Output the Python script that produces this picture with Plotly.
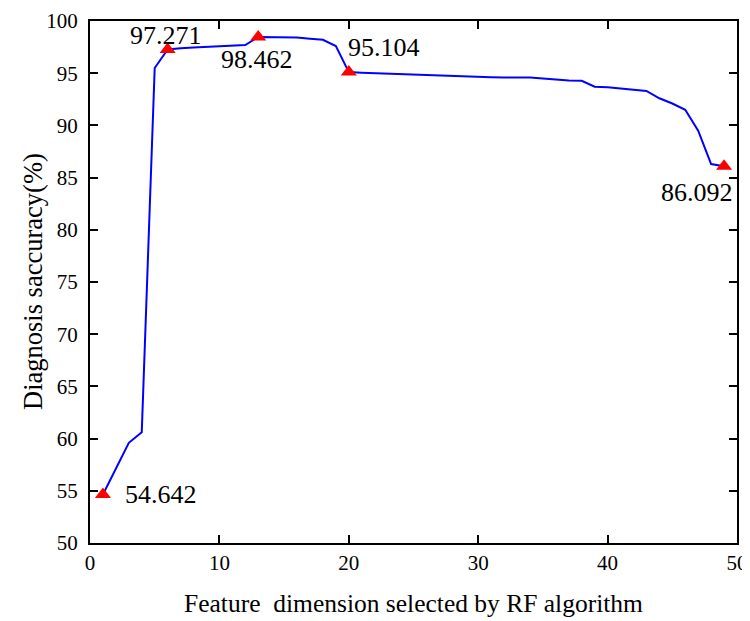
import plotly.graph_objects as go

x_dims = list(range(1, 50))
accuracy = [54.642, 57.2, 59.6, 60.6, 95.5, 97.271, 97.4, 97.45, 97.5, 97.55,
            97.62, 97.7, 98.462, 98.45, 98.45, 98.42, 98.3, 98.2, 97.6, 95.104,
            95.05, 95.0, 94.95, 94.9, 94.88, 94.86, 94.75, 94.72, 94.65, 94.64,
            94.62, 94.6, 94.6, 94.58, 94.5, 94.4, 94.3, 94.28, 93.7, 93.65,
            93.55, 93.4, 93.3, 92.6, 92.1, 91.5, 89.5, 86.3, 86.092]

mark_x = [1, 6, 13, 20, 49]
mark_y = [54.642, 97.271, 98.462, 95.104, 86.092]
mark_labels = ["54.642", "97.271", "98.462", "95.104", "86.092"]
label_shift = [(58, 0), (-2, 14), (-1, -22), (35, 25), (-27, -26)]

SERIF = "Liberation Serif"

fig = go.Figure()
fig.add_trace(go.Scatter(x=x_dims, y=accuracy, mode="lines",
                         line=dict(color="#0000ff", width=2), showlegend=False))
fig.add_trace(go.Scatter(x=mark_x, y=mark_y, mode="markers",
                         marker=dict(symbol="triangle-up", color="#ff0000", size=14),
                         showlegend=False))

for xv, yv, lab, (dx, dy) in zip(mark_x, mark_y, mark_labels, label_shift):
    fig.add_annotation(x=xv, y=yv, text=lab, showarrow=False, xshift=dx, yshift=dy,
                       font=dict(family=SERIF, size=26, color="black"))

# y-axis title placed as a rotated annotation for exact positioning
fig.add_annotation(x=0, y=0.5, xref="paper", yref="paper", text="Diagnosis saccuracy(%)",
                   textangle=-90, showarrow=False, xanchor="center", yanchor="middle",
                   xshift=-57, font=dict(family=SERIF, size=26.5, color="black"))

axis_common = dict(showline=True, linecolor="black", linewidth=2, mirror="ticks",
                   ticks="inside", ticklen=8, tickwidth=2, tickcolor="black",
                   showgrid=False, zeroline=False, automargin=False,
                   tickfont=dict(family=SERIF, size=21, color="black"))

fig.update_xaxes(range=[0, 50], dtick=10, **axis_common,
                 title=dict(text="Feature  dimension selected by RF algorithm",
                            font=dict(family=SERIF, size=25.5, color="black"),
                            standoff=20))
fig.update_yaxes(range=[50, 100], dtick=5, ticklabelstandoff=6, **axis_common)

# page body has an 8px default margin, so the figure is shrunk by that amount
fig.update_layout(width=742, height=613, plot_bgcolor="white", paper_bgcolor="white",
                  margin=dict(l=82, r=13, t=13, b=78, autoexpand=False))

fig.write_html("out.html")
